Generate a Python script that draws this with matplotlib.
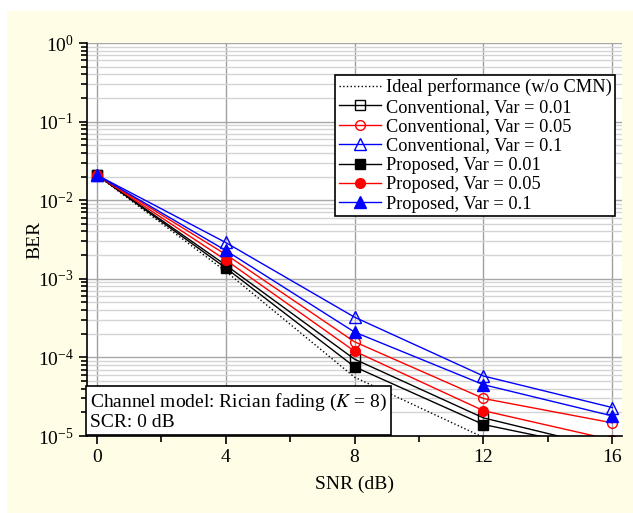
import matplotlib
matplotlib.use("Agg")
import matplotlib.pyplot as plt
from matplotlib.patches import Rectangle
from matplotlib.ticker import LogLocator, NullFormatter, MultipleLocator

plt.rcParams['font.family'] = ['Liberation Serif', 'DejaVu Serif']
plt.rcParams['mathtext.fontset'] = 'stix'

# SNR points (dB)
snr = [0, 4, 8, 12, 16]

# BER values
ideal = [0.021, 1.25e-3, 5.6e-5, 9.6e-6, 1.5e-6]
conv_001 = [0.021, 1.5e-3, 9.5e-5, 1.7e-5, 6.8e-6]
conv_005 = [0.021, 2.05e-3, 1.58e-4, 3.0e-5, 1.47e-5]
conv_01 = [0.021, 2.9e-3, 3.25e-4, 5.8e-5, 2.3e-5]
prop_001 = [0.021, 1.38e-3, 7.6e-5, 1.4e-5, 6.4e-6]
prop_005 = [0.021, 1.74e-3, 1.2e-4, 2.1e-5, 8.9e-6]
prop_01 = [0.021, 2.3e-3, 2.1e-4, 4.5e-5, 1.8e-5]

labels = ["Ideal performance (w/o CMN)",
          "Conventional, Var = 0.01",
          "Conventional, Var = 0.05",
          "Conventional, Var = 0.1",
          "Proposed, Var = 0.01",
          "Proposed, Var = 0.05",
          "Proposed, Var = 0.1"]

fig = plt.figure(figsize=(6.33, 5.13), dpi=100, facecolor='white')
# light yellow page background
fig.patches.append(Rectangle((7 / 633, 0), 626 / 633, 502 / 513,
                             transform=fig.transFigure, facecolor='#fffde6',
                             edgecolor='none', zorder=-10))

ax = fig.add_axes([87 / 633, 1 - 436 / 513, 535 / 633, 393 / 513])
ax.set_facecolor('white')

ms = 7
lw = 1.0
ax.plot(snr, ideal, color='black', linestyle=':', lw=lw, label=labels[0])
ax.plot(snr, conv_001, color='black', marker='s', mfc='none', ms=ms, lw=lw, label=labels[1])
ax.plot(snr, conv_005, color='red', marker='o', mfc='none', ms=ms, lw=lw, label=labels[2])
ax.plot(snr, conv_01, color='blue', marker='^', mfc='none', ms=ms + 1, lw=lw, label=labels[3])
ax.plot(snr, prop_001, color='black', marker='s', ms=ms, lw=lw, label=labels[4])
ax.plot(snr, prop_005, color='red', marker='o', ms=ms, lw=lw, label=labels[5])
ax.plot(snr, prop_01, color='blue', marker='^', ms=ms + 1, lw=lw, label=labels[6])

ax.set_yscale('log')
ax.set_ylim(1e-5, 1)
ax.set_xlim(-0.3, 16.3)
ax.xaxis.set_major_locator(MultipleLocator(4))
ax.xaxis.set_minor_locator(MultipleLocator(2))
ax.yaxis.set_major_locator(LogLocator(base=10, numticks=10))
ax.yaxis.set_minor_locator(LogLocator(base=10, subs=range(2, 10), numticks=20))
ax.yaxis.set_minor_formatter(NullFormatter())

ax.grid(True, axis='x', which='major', color='#a0a0a0', lw=1.0)
ax.grid(True, axis='y', which='major', color='#a8a8a8', lw=1.0)
ax.grid(True, axis='y', which='minor', color='#d4d4d4', lw=1.0)
ax.set_axisbelow(True)

for s in ['top', 'right']:
    ax.spines[s].set_visible(False)
ax.spines['left'].set_linewidth(1.2)
ax.spines['bottom'].set_linewidth(1.2)

ax.tick_params(which='major', direction='out', length=6, width=1.2, labelsize=14)
ax.tick_params(which='minor', direction='out', length=4, width=1.2)

ax.set_xlabel('SNR (dB)', fontsize=14, va='center')
ax.set_ylabel('BER', fontsize=14, va='center')
ax.xaxis.set_label_coords(0.5, -0.122)
ax.yaxis.set_label_coords(-0.097, 0.5)

leg = ax.legend(loc='upper right', fontsize=13.2, frameon=True, fancybox=False,
                edgecolor='black', framealpha=1, borderpad=0.2, labelspacing=0.13,
                handlelength=2.3, handletextpad=0.25, borderaxespad=0,
                bbox_to_anchor=(0.987, 0.919))
leg.get_frame().set_linewidth(1.2)

ax.text(0.006, 0.012, 'Channel model: Rician fading ($K$ = 8)\nSCR: 0 dB',
        transform=ax.transAxes, fontsize=14, va='bottom', ha='left',
        linespacing=1.1,
        bbox=dict(boxstyle='square,pad=0.2', facecolor='white', edgecolor='black', lw=1.2),
        zorder=5)

fig.savefig('out.png', dpi=100, facecolor=fig.get_facecolor())
